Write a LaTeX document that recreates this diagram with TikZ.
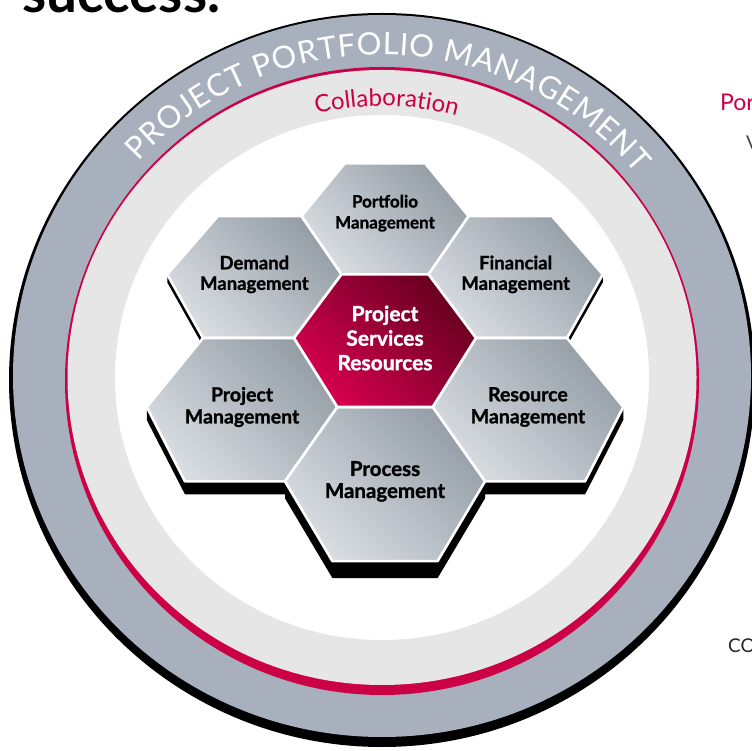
\documentclass[tikz,border=0pt]{standalone}
\usepackage{fontspec}
\setmainfont{Lato}
\newfontfamily\cellfont{Lato}[BoldFeatures={FakeBold=1.3}]
\usepackage{tikz}
\usetikzlibrary{decorations.text}

\definecolor{ringgray}{HTML}{A8AFBD}
\definecolor{ringlight}{HTML}{E6E6E6}
\definecolor{crimson}{HTML}{CC0044}
\definecolor{hexdark}{HTML}{959EA6}
\definecolor{hexlight}{HTML}{D8DDE2}
\definecolor{coredark}{HTML}{650020}
\definecolor{corelight}{HTML}{D6004E}

% honeycomb seen in perspective: column #1 (in R), row #2 (in h), drop #3
\newcommand{\hexpt}[3]{({385+(#1)*(91-4.1*(#2)+0.2*(#2)*(#2))},{412+66.3*(#2)-2.7*(#2)*(#2)-(#3)})}
\newcommand{\hexcell}[2]{\hexpt{#1+1}{#2}{0} -- \hexpt{#1+0.5}{#2+1}{0} -- \hexpt{#1-0.5}{#2+1}{0} -- \hexpt{#1-1}{#2}{0} -- \hexpt{#1-0.5}{#2-1}{0} -- \hexpt{#1+0.5}{#2-1}{0} -- cycle}
\newcommand{\hexslab}[3]{\hexpt{#1-1}{#2}{0} -- \hexpt{#1-1}{#2}{#3} -- \hexpt{#1-0.5}{#2-1}{#3} -- \hexpt{#1+0.5}{#2-1}{#3} -- \hexpt{#1+1}{#2}{#3} -- \hexpt{#1+1}{#2}{0} -- cycle}

\begin{document}
\begin{tikzpicture}[x=1pt,y=1pt,
  hexcell/.style={draw=white,line width=2.6pt,line join=round,top color=hexdark,bottom color=hexlight,shading angle=-45},
  corecell/.style={hexcell,top color=coredark,bottom color=corelight,shading angle=-45},
  hexdrop/.style={fill=black},
  hexlabel/.style 2 args={align=center,inner sep=0pt,text=black,font=\cellfont\bfseries\fontsize{#1}{#2}\selectfont},
  sidetext/.style={anchor=base west,inner sep=0pt}]
  \useasboundingbox (0,0) rectangle (752,750);
  \clip (0,0) rectangle (752,750);

  %rings
  \fill[black] (382,370) ellipse [x radius=373,y radius=367];
  \fill[ringgray] (382,374) ellipse [x radius=369,y radius=361];
  \fill[crimson] (382,369) ellipse [x radius=317,y radius=314];
  \fill[ringlight] (382,372.5) ellipse [x radius=314.5,y radius=307.5];
  \fill[white] (382,372.5) ellipse [x radius=267,y radius=262.5];

  %ring texts
  \path[decorate,decoration={text along path,text color=white,text align={fit to path},text={|\fontsize{31}{31}\selectfont|PROJECT PORTFOLIO MANAGEMENT}}] (382,374) ++(138:328 and 321) arc[start angle=138,end angle=39,x radius=328,y radius=321];
  \path[decorate,decoration={text along path,text color=crimson,text align=center,text={|\fontsize{24}{24}\selectfont|Collaboration}}] (382,372.5) ++(120:277 and 271.5) arc[start angle=120,end angle=58,x radius=277,y radius=271.5];

  %slabs under the cells
  \path[hexdrop] \hexslab{0}{2}{6};
  \path[hexdrop] \hexslab{-1.5}{1}{8};
  \path[hexdrop] \hexslab{1.5}{1}{8};
  \path[hexdrop] \hexslab{-1.5}{-1}{13};
  \path[hexdrop] \hexslab{1.5}{-1}{13};
  \path[hexdrop] \hexslab{0}{-2}{17};

  %cells
  \path[hexcell] \hexcell{0}{2};
  \path[hexcell] \hexcell{-1.5}{1};
  \path[hexcell] \hexcell{1.5}{1};
  \path[hexcell] \hexcell{-1.5}{-1};
  \path[hexcell] \hexcell{1.5}{-1};
  \path[hexcell] \hexcell{0}{-2};
  \path[corecell] \hexcell{0}{0};

  %labels
  \path \hexpt{0}{2}{-3} node[hexlabel={17}{21}] (portfolio) {Portfolio\\Management};
  \path \hexpt{-1.5}{1}{0} node[hexlabel={18.5}{20.5}] (demand) {Demand\\Management};
  \path \hexpt{1.5}{1}{0} node[hexlabel={18.5}{20.5}] (financial) {Financial\\Management};
  \path \hexpt{0}{0}{0} node[hexlabel={21}{24.5},text=white] (core) {Project\\Services\\Resources};
  \path \hexpt{-1.5}{-1}{0} node[hexlabel={19.5}{22}] (project) {Project\\Management};
  \path \hexpt{1.5}{-1}{0} node[hexlabel={19.5}{22}] (resource) {Resource\\Management};
  \path \hexpt{0}{-2}{0} node[hexlabel={20.5}{22}] (process) {Process\\Management};

  %page around the figure
  \node[sidetext,font=\bfseries\fontsize{55}{55}\selectfont] (heading) at (22,737) {success.};
  \node[sidetext,text=crimson,font=\fontsize{23}{23}\selectfont] (sidehead) at (720,639) {Por};
  \node[sidetext,text=black!75,font=\fontsize{19}{19}\selectfont] (sidev) at (746,600) {V};
  \node[sidetext,text=black!85,font=\fontsize{19}{19}\selectfont] (sideco) at (728,98) {CO};
\end{tikzpicture}
\end{document}
